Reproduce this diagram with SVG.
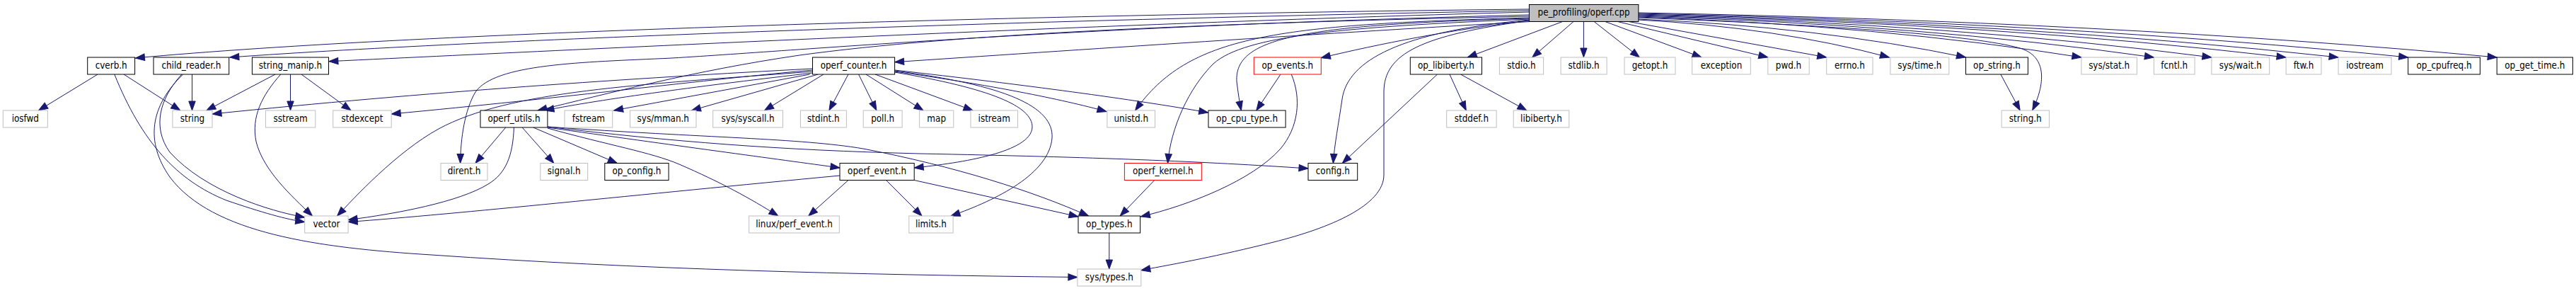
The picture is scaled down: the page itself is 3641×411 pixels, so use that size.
<svg xmlns="http://www.w3.org/2000/svg" width="3641" height="411" viewBox="0 0 3641 411">
<style>
.bg{fill:#ffffff}
.n rect{fill:#ffffff;stroke-width:1}
.g rect{stroke:#bfbfbf}
.b rect{stroke:#000000}
.r rect{stroke:#ff0000}
.m rect{fill:#bfbfbf;stroke:#000000}
.n text{font-family:"DejaVu Sans Condensed","DejaVu Sans",sans-serif;font-stretch:condensed;font-size:13.33px;fill:#000000;text-anchor:middle}
#edges path{fill:none;stroke:#191970;stroke-width:1;marker-end:url(#ah)}
</style>
<defs>
<marker id="ah" markerUnits="userSpaceOnUse" markerWidth="14" markerHeight="10" refX="13" refY="5" orient="auto" overflow="visible">
<path d="M0,0.3 L13,5 L0,9.7 z" fill="#191970" stroke="#191970" stroke-width="1"/>
</marker>
</defs>
<rect class="bg" x="0" y="0" width="3641" height="411"/>
<g id="edges">
<path d="M2161.4,13 C1500,20 600,44 191.4,82"/>
<path d="M2161.4,15 C1500,27 700,54 324.8,81"/>
<path d="M2161.4,17 C1600,32 900,66 464.9,86.7"/>
<path d="M2163,30.5 C1900,45 1500,72 1264.6,87.7"/>
<path d="M2161.4,29 C2050,42 1950,62 1867.3,81.7"/>
<path d="M2208.5,30.5 L2074.3,81"/>
<path d="M2224,30.5 L2165.7,81"/>
<path d="M2238.4,30.5 L2238.4,81"/>
<path d="M2253.2,30.5 L2317.4,81"/>
<path d="M2268.8,30.5 L2405,81"/>
<path d="M2286.3,30.5 L2498.8,81"/>
<path d="M2302,30.5 L2581.7,81"/>
<path d="M2315.9,28 Q2510.9,38.6 2670.4,81"/>
<path d="M2315.9,27 Q2570.3,37.8 2778.5,81"/>
<path d="M2315.9,25 C2600,36 2790,50 2855,68 C2895,80 2890,120 2872.7,155.7"/>
<path d="M2315.9,24 Q2660.2,36.2 2941.9,81"/>
<path d="M2315.9,23 Q2716.6,34.6 3044.4,81"/>
<path d="M2315.9,22 Q2761.4,33.8 3125.9,81"/>
<path d="M2315.9,21 Q2819.3,33 3231.1,81"/>
<path d="M2315.9,20 Q2860,32.2 3305.1,81"/>
<path d="M2315.9,19 Q2914.2,31.4 3403.7,81"/>
<path d="M2315.9,18 Q2983.2,30.6 3529.2,81"/>
<path d="M2161.4,21 C1500,38 1150,70 950,82 C820,88 700,90 672,130 C657,155 651,195 650.6,230.5"/>
<path d="M2161.4,23 C1700,33 1350,48 1130,78 C980,100 860,132 760,156"/>
<path d="M2161.4,25 C1800,35 1680,50 1604.6,156"/>
<path d="M2161.4,26 C1830,35 1745,55 1748,115 Q1751,140 1754.4,156"/>
<path d="M2161.4,27 C1900,38 1760,50 1715,90 C1680,125 1655,180 1650.5,230.5"/>
<path d="M2161.4,28 C1980,45 1905,85 1897,140 C1892,175 1886,205 1884.4,230.5"/>
<path d="M2161.4,29 C2010,50 1956,75 1956,130 L1956,247 C1956,290 1880,322 1800,342 C1720,362 1665,372 1612.8,381.7"/>
<path d="M138.1,105 L54.5,156"/>
<path d="M175,105 L254.8,156"/>
<path d="M161.8,105 C200,200 250,255 320,283 C370,300 405,310 430.7,313.5"/>
<path d="M271.5,105 L271.5,156"/>
<path d="M256.8,105 C225,140 215,180 240,215 C290,270 380,298 430.7,307"/>
<path d="M258.7,105 C212,150 205,200 240,250 C300,330 450,350 610,360 C900,380 1200,388 1522.9,391.5"/>
<path d="M389,105 L291.8,156"/>
<path d="M410.5,105 L410.5,156"/>
<path d="M426,105 L496,156"/>
<path d="M396.8,105 C370,135 355,165 362,200 C372,240 410,275 441.5,305"/>
<path d="M1148.5,97 C900,110 600,130 300,161"/>
<path d="M1148.5,99 C1000,112 800,138 553.2,161"/>
<path d="M1148.5,101 C900,120 720,128 620,182 C560,215 500,280 476.6,305"/>
<path d="M1148.5,103 C1000,120 850,140 770,156"/>
<path d="M1144.6,105 L867.6,156"/>
<path d="M1156.3,105 L977.4,156"/>
<path d="M1164,105 L1080.5,156"/>
<path d="M1199,105 L1171.9,156"/>
<path d="M1213.6,105 L1238.9,156"/>
<path d="M1224,105 L1305,156"/>
<path d="M1237,105 L1375,156"/>
<path d="M1264.6,101 C1400,120 1500,140 1564,157.5"/>
<path d="M1264.6,99 C1450,120 1600,140 1707.7,159"/>
<path d="M1264.6,102 C1400,125 1460,150 1459,180 C1457,215 1360,230 1292.2,237"/>
<path d="M1264.6,100 C1420,120 1490,150 1487,195 C1483,245 1410,282 1344,305"/>
<path d="M714.8,180 L672,230.5"/>
<path d="M738.1,180 L782.8,230.5"/>
<path d="M753.7,180 L872.3,230.5"/>
<path d="M726.4,180 C725,220 715,245 690,260 C650,285 560,302 492.1,310.5"/>
<path d="M773.9,181 C860,205 920,215 960,232 C1020,258 1060,280 1099.9,305"/>
<path d="M773.9,180 C950,205 1100,225 1187,237"/>
<path d="M773.9,179 C1000,195 1130,195 1220,210 C1350,235 1460,270 1538.5,305"/>
<path d="M773.9,179 C950,200 1100,212 1300,217 C1550,222 1700,228 1849,238"/>
<path d="M1187,248 C900,275 650,302 492.1,313.5"/>
<path d="M1199,254.5 L1142.7,305"/>
<path d="M1252.5,254.5 L1303,305"/>
<path d="M1292.2,254.5 L1524,306"/>
<path d="M1810,105 L1775.8,156"/>
<path d="M1825.3,105 C1840,140 1835,180 1810,210 C1770,255 1680,290 1612.4,306"/>
<path d="M1631.8,254.5 L1583.2,305"/>
<path d="M1567.8,329 L1567.8,380"/>
<path d="M2031.5,105 L1897.3,230.5"/>
<path d="M2049,105 L2072.3,156"/>
<path d="M2064.5,105 L2157.9,156"/>
<path d="M2827.9,105 L2855.2,156"/>
</g>
<g id="node_main" class="n m"><rect x="2161.4" y="6.5" width="154.5" height="24"/><text x="2238.65" y="22.3">pe_profiling/operf.cpp</text></g>
<g id="node_cverb_h" class="n b"><rect x="123.7" y="81" width="66.9" height="24"/><text x="157.15" y="96.8">cverb.h</text></g>
<g id="node_child_reader_h" class="n b"><rect x="217" y="81" width="106.7" height="24"/><text x="270.35" y="96.8">child_reader.h</text></g>
<g id="node_string_manip_h" class="n b"><rect x="356.4" y="81" width="108.1" height="24"/><text x="410.45" y="96.8">string_manip.h</text></g>
<g id="node_operf_counter_h" class="n b"><rect x="1148.5" y="81" width="116.1" height="24"/><text x="1206.55" y="96.8">operf_counter.h</text></g>
<g id="node_op_events_h" class="n r"><rect x="1772.3" y="81" width="95" height="24"/><text x="1819.8" y="96.8">op_events.h</text></g>
<g id="node_op_libiberty_h" class="n b"><rect x="1993.3" y="81" width="101.2" height="24"/><text x="2043.9" y="96.8">op_libiberty.h</text></g>
<g id="node_stdio_h" class="n g"><rect x="2119.4" y="81" width="62.2" height="24"/><text x="2150.5" y="96.8">stdio.h</text></g>
<g id="node_stdlib_h" class="n g"><rect x="2206.1" y="81" width="65" height="24"/><text x="2238.6" y="96.8">stdlib.h</text></g>
<g id="node_getopt_h" class="n g"><rect x="2296" y="81" width="72" height="24"/><text x="2332" y="96.8">getopt.h</text></g>
<g id="node_exception" class="n g"><rect x="2391.7" y="81" width="82.6" height="24"/><text x="2433" y="96.8">exception</text></g>
<g id="node_pwd_h" class="n g"><rect x="2498.8" y="81" width="58.4" height="24"/><text x="2528" y="96.8">pwd.h</text></g>
<g id="node_errno_h" class="n g"><rect x="2581.7" y="81" width="65.3" height="24"/><text x="2614.35" y="96.8">errno.h</text></g>
<g id="node_sys_time_h" class="n g"><rect x="2671.9" y="81" width="82.9" height="24"/><text x="2713.35" y="96.8">sys/time.h</text></g>
<g id="node_op_string_h" class="n b"><rect x="2778.5" y="81" width="87.9" height="24"/><text x="2822.45" y="96.8">op_string.h</text></g>
<g id="node_sys_stat_h" class="n g"><rect x="2941.9" y="81" width="78.5" height="24"/><text x="2981.15" y="96.8">sys/stat.h</text></g>
<g id="node_fcntl_h" class="n g"><rect x="3044.4" y="81" width="57.7" height="24"/><text x="3073.25" y="96.8">fcntl.h</text></g>
<g id="node_sys_wait_h" class="n g"><rect x="3125.9" y="81" width="81.8" height="24"/><text x="3166.8" y="96.8">sys/wait.h</text></g>
<g id="node_ftw_h" class="n g"><rect x="3231.1" y="81" width="49.9" height="24"/><text x="3256.05" y="96.8">ftw.h</text></g>
<g id="node_iostream" class="n g"><rect x="3305.1" y="81" width="74.9" height="24"/><text x="3342.55" y="96.8">iostream</text></g>
<g id="node_op_cpufreq_h" class="n b"><rect x="3403.7" y="81" width="101.7" height="24"/><text x="3454.55" y="96.8">op_cpufreq.h</text></g>
<g id="node_op_get_time_h" class="n b"><rect x="3529.2" y="81" width="107.2" height="24"/><text x="3582.8" y="96.8">op_get_time.h</text></g>
<g id="node_iosfwd" class="n g"><rect x="4.3" y="156" width="63" height="24"/><text x="35.8" y="171.8">iosfwd</text></g>
<g id="node_string" class="n g"><rect x="243.9" y="156" width="56.1" height="24"/><text x="271.95" y="171.8">string</text></g>
<g id="node_sstream" class="n g"><rect x="375.4" y="156" width="70.4" height="24"/><text x="410.6" y="171.8">sstream</text></g>
<g id="node_stdexcept" class="n g"><rect x="470.7" y="156" width="82.5" height="24"/><text x="511.95" y="171.8">stdexcept</text></g>
<g id="node_operf_utils_h" class="n b"><rect x="679" y="156" width="94.9" height="24"/><text x="726.45" y="171.8">operf_utils.h</text></g>
<g id="node_fstream" class="n g"><rect x="798" y="156" width="67.7" height="24"/><text x="831.85" y="171.8">fstream</text></g>
<g id="node_sys_mman_h" class="n g"><rect x="890.6" y="156" width="93.4" height="24"/><text x="937.3" y="171.8">sys/mman.h</text></g>
<g id="node_sys_syscall_h" class="n g"><rect x="1007.7" y="156" width="98.8" height="24"/><text x="1057.1" y="171.8">sys/syscall.h</text></g>
<g id="node_stdint_h" class="n g"><rect x="1131.4" y="156" width="65" height="24"/><text x="1163.9" y="171.8">stdint.h</text></g>
<g id="node_poll_h" class="n g"><rect x="1220.2" y="156" width="54.9" height="24"/><text x="1247.65" y="171.8">poll.h</text></g>
<g id="node_map" class="n g"><rect x="1299.6" y="156" width="48.2" height="24"/><text x="1323.7" y="171.8">map</text></g>
<g id="node_istream" class="n g"><rect x="1372" y="156" width="66.5" height="24"/><text x="1405.25" y="171.8">istream</text></g>
<g id="node_unistd_h" class="n g"><rect x="1564.9" y="156" width="67.7" height="24"/><text x="1598.75" y="171.8">unistd.h</text></g>
<g id="node_op_cpu_type_h" class="n b"><rect x="1708" y="156" width="109.1" height="24"/><text x="1762.55" y="171.8">op_cpu_type.h</text></g>
<g id="node_stddef_h" class="n g"><rect x="2044.7" y="156" width="70.4" height="24"/><text x="2079.9" y="171.8">stddef.h</text></g>
<g id="node_libiberty_h" class="n g"><rect x="2139.2" y="156" width="78.6" height="24"/><text x="2178.5" y="171.8">libiberty.h</text></g>
<g id="node_string_h" class="n g"><rect x="2829.1" y="156" width="67.3" height="24"/><text x="2862.75" y="171.8">string.h</text></g>
<g id="node_dirent_h" class="n g"><rect x="623" y="230.5" width="66" height="24"/><text x="656" y="246.3">dirent.h</text></g>
<g id="node_signal_h" class="n g"><rect x="763.8" y="230.5" width="66.9" height="24"/><text x="797.25" y="246.3">signal.h</text></g>
<g id="node_op_config_h" class="n b"><rect x="854.8" y="230.5" width="90.3" height="24"/><text x="899.95" y="246.3">op_config.h</text></g>
<g id="node_operf_event_h" class="n b"><rect x="1187" y="230.5" width="105.2" height="24"/><text x="1239.6" y="246.3">operf_event.h</text></g>
<g id="node_operf_kernel_h" class="n r"><rect x="1589.4" y="230.5" width="108.9" height="24"/><text x="1643.85" y="246.3">operf_kernel.h</text></g>
<g id="node_config_h" class="n b"><rect x="1849" y="230.5" width="69.7" height="24"/><text x="1883.85" y="246.3">config.h</text></g>
<g id="node_vector" class="n g"><rect x="430.7" y="305" width="61.4" height="24"/><text x="461.4" y="320.8">vector</text></g>
<g id="node_linux_perf_event_h" class="n g"><rect x="1058.7" y="305" width="127.6" height="24"/><text x="1122.5" y="320.8">linux/perf_event.h</text></g>
<g id="node_limits_h" class="n g"><rect x="1284.8" y="305" width="62.3" height="24"/><text x="1315.95" y="320.8">limits.h</text></g>
<g id="node_op_types_h" class="n b"><rect x="1524" y="305" width="87.6" height="24"/><text x="1567.8" y="320.8">op_types.h</text></g>
<g id="node_sys_types_h" class="n g"><rect x="1522.9" y="380" width="89.9" height="24"/><text x="1567.85" y="395.8">sys/types.h</text></g>
</svg>
